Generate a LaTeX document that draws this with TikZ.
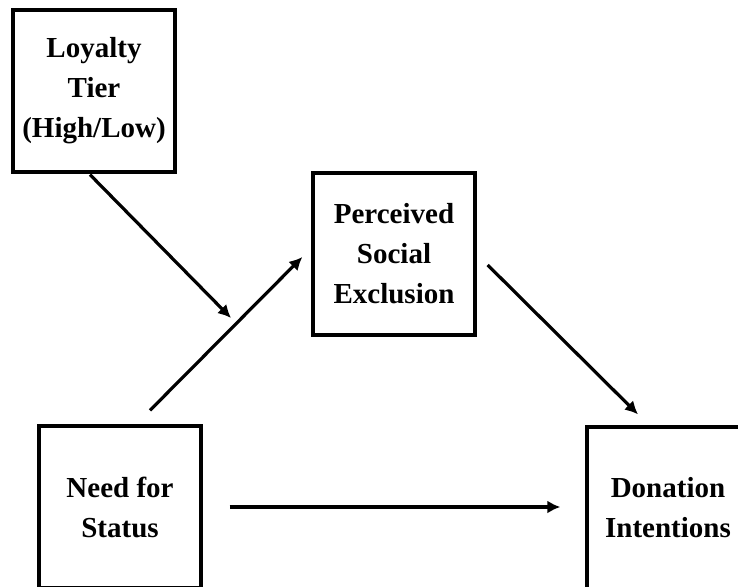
\documentclass[tikz,border=0pt]{standalone}
\usepackage{fontspec}
\setmainfont{Liberation Serif}
\usetikzlibrary{arrows.meta}

\begin{document}
\begin{tikzpicture}
      [%%%%%%%%%%%%%%%%%%%%%%%%%%%%%%
      x=1pt, y=-1pt,
      box/.style={rectangle,draw=black,line width=3.3pt,minimum size=162pt,
        inner sep=0pt,align=center,font=\fontsize{29}{40}\selectfont\bfseries},
      arrow/.style={line width=3.2pt,-{Latex[length=13pt,width=13pt]}},
      ]%%%%%%%%%%%%%%%%%%%%%%%%%%%%%%
      
      \useasboundingbox (0,0) rectangle (738,586);
      \clip (0,0) rectangle (738,586);
      \fill[white] (0,0) rectangle (738,586);
      
      \node[box] (loyalty)   at (94,91)   {Loyalty\\Tier\\(High/Low)};
      \node[box] (perceived) at (394,254) {Perceived\\Social\\Exclusion};
      \node[box] (need)      at (120,507) {Need for\\Status};
      \node[box] (donation)  at (668,508) {Donation\\Intentions};
      
      \coordinate (mod) at (231,318);
      
      \draw[arrow] ([shift={(-4,1)}]loyalty.south) -- (mod);
      \draw[arrow] ([shift={(30,-14)}]need.north) -- ([shift={(-9,3)}]perceived.west);
      \draw[arrow] ([shift={(11,11)}]perceived.east) -- ([shift={(-30,-11)}]donation.north);
      \draw[arrow] ([xshift=27pt]need.east) -- ([shift={(-25,-1)}]donation.west);
    \end{tikzpicture}
\end{document}
